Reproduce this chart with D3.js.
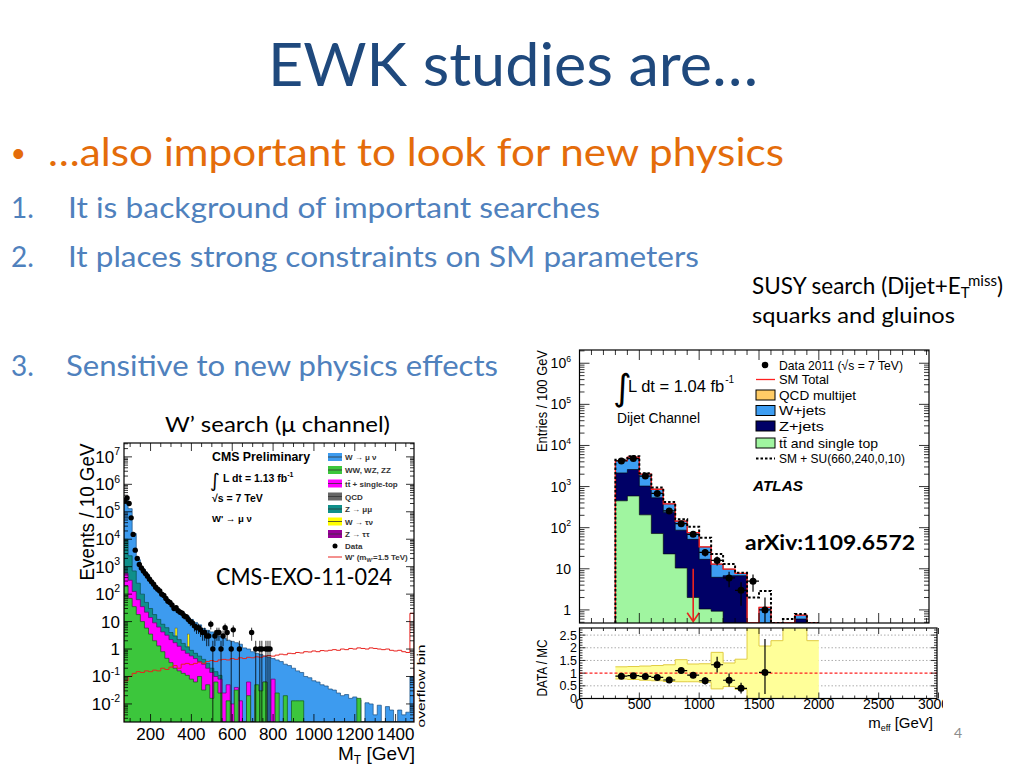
<!DOCTYPE html>
<html><head><meta charset="utf-8">
<script src="https://cdn.jsdelivr.net/npm/d3@7"></script>
<style>body{margin:0;background:#fff}svg{display:block}</style>
</head><body>
<svg id="s" width="1024" height="768"></svg>
<script>
// ---------------- slide text ----------------
const slideTitle = "EWK studies are…";
const bulletText = "…also important to look for new physics";
const listItems = ["It is background of important searches",
  "It places strong constraints on SM parameters",
  "Sensitive to new physics effects"];

// ---------------- CMS W' search (MT, 20 GeV bins from 70 GeV) ----------------
const cmsEdges = d3.range(70, 1491, 20);
const cmsWmunu = [3.2e5,1.3e5,1.6e4,1.8e3,870,560,320,200,140,100,
 66,45,32,25,20,16,12,9.3,7.6,5.6,
 4.8,4.2,3.5,3.0,2.5,2.1,1.9,1.7,1.5,1.1,
 1.0,0.8,0.7,0.63,0.56,0.5,0.45,0.4,0.35,0.28,
 0.25,0.2,0.16,0.14,0.1,0.09,0.07,0.063,0.05,0.045,
 0.035,0.032,0.025,0.02,0.022,0.016,0.018,0.014,0,0.011,
 0.01,0.004,0.009,0,0.008,0.006,0,0.006,0.004,0.005,
 0.1];
const cmsZmumu = [1e4,2.5e3,700,250,100,50,30,18,12,8,
 6,4,3,2.2,1.6,1.2,0.9,0.7,0.55,0.42,
 0.3,0.2,0.15,0.11,0,0,0,0,0,0,
 0,0,0,0,0,0,0,0,0,0,
 0,0,0,0,0,0,0,0,0,0,
 0,0,0,0,0,0,0,0,0,0,
 0,0,0,0,0,0,0,0,0,0,
 0];
const cmsTop = [560,320,125,63,35,22,14,9,6.3,4.2,
 3.2,2.2,1.7,1.26,0.9,0.7,0.56,0.45,0.35,0.28,
 0.2,0.14,0.1,0.08,0.025,0.05,0.01,0.04,0.013,0,
 0.063,0,0.032,0.016,0.063,0,0.08,0,0,0,
 0,0,0,0,0,0,0,0,0,0,
 0,0,0,0,0,0,0,0,0,0,
 0,0,0,0,0,0,0,0,0,0,
 0];
const cmsDiboson = [200,70,35,18,10,5.8,3.5,2.0,1.3,0.8,
 0.46,0.32,0.2,0.16,0.13,0.11,0.08,0.063,0.1,0.032,
 0.05,0.016,0.063,0.025,0,0.013,0,0.032,0,0,
 0.02,0,0.05,0.03,0.063,0,0,0.025,0,0.02,
 0,0.013,0.013,0.013,0,0,0,0,0,0,
 0,0,0,0,0,0,0,0.016,0,0,
 0,0,0,0,0,0,0,0,0,0,
 0];
const cmsWprime = [0.07,0.1,0.13,0.15,0.14,0.16,0.15,0.17,0.16,0.2,
 0.18,0.22,0.25,0.2,0.28,0.3,0.27,0.3,0.33,0.3,
 0.35,0.38,0.35,0.4,0.42,0.4,0.45,0.42,0.48,0.45,
 0.5,0.48,0.52,0.5,0.55,0.58,0.55,0.6,0.65,0.62,
 0.7,0.68,0.75,0.72,0.8,0.78,0.85,0.8,0.88,0.85,
 0.9,0.95,0.9,1.0,0.95,1.05,1.0,1.1,1.05,1.0,
 1.1,1.05,1.0,0.95,1.0,0.9,0.85,0.9,0.8,0.75,
 20];
const cmsWtaunuLow = [320, 380];
const cmsWtaunu = [5.8, 3.5];
const cmsDataM = [75,85,95,105,115,125,135,145,155,165,175,185,195,205,215,225,235,245,255,265,
 275,285,295,305,315,325,335,345,355,365,375,385,395,405,415,425,435,445,455,465,475,485,495,
 505,515,525,535,545,555,565,575,595,605,635,695,715,735,745,765,775,785];
const cmsDataN = [2.5e5,3.2e5,2e5,6e4,1.5e4,4e3,2e3,1.2e3,900,700,560,450,350,280,230,180,150,130,100,90,
 70,55,50,40,30,32,25,22,20,16,15,12,10,9,7,6,6,5,4,4,3,3,8,
 1,3,4,4,1,3,6,4,1,5,1,4,1,1,1,1,1,1];
const cmsXTicks = [200,400,600,800,1000,1200,1400];
const cmsYExps = [7,6,5,4,3,2,1,0,-1,-2];
const cmsLegend = ["W → μ ν","WW, WZ, ZZ","tt\u0304 + single-top","QCD","Z → μμ","W → τν","Z → ττ","Data","W' (m"];

// ---------------- ATLAS SUSY dijet (meff, 100 GeV bins) ----------------
const atlasEdges = d3.range(300, 2001, 100);
const atlasWjets = [4300,5200,2000,860,380,145,76,34,13,9.8,7.7,0,1.15,0,0,0.75,0];
const atlasZjets = [2150,2600,1030,535,235,87,52,17,6.2,6.8,6.8,0,0,0,0,0.6,0];
const atlasTop   = [450,590,205,72,23,10.4,2.0,1.05,0.93,0,0,0,0,0,0,0,0];
const atlasSU    = [4500,5500,2100,950,420,160,105,57,23,13,8,2.0,2.9,0,0.6,0.8,0];
const atlasDataM = [350,450,550,650,750,850,950,1050,1150,1250,1350,1450,1550];
const atlasDataN = [4200,4800,1800,680,255,125,69,25,16,6,3,5,1];
const atlasRatio = [0.88,0.9,0.87,0.83,0.73,1.1,0.92,0.7,1.33,0.72,0.4,null,1.03];
const atlasRatioLo = [0.03,0.03,0.04,0.05,0.06,0.1,0.12,0.15,0.3,0.25,0.2,null,0.85];
const atlasRatioHi = [0.03,0.03,0.04,0.05,0.06,0.1,0.12,0.15,0.32,0.27,0.22,null,1.32];
const bandHi = [1.25,1.26,1.28,1.3,1.33,1.53,1.36,1.37,1.82,1.4,1.55,3,2.07,2.28,3,3,2.28];
const bandLo = [0.77,0.75,0.72,0.7,0.67,0.66,0.66,0.64,0.38,0.47,0.36,0,0,0,0,0,0];
const atlasCut = 950;
const atlasXTicks = [0,500,1000,1500,2000,2500,3000];
const atlasYExps = [6,5,4,3,2,1,0];
const ratioTicks = [0,0.5,1,1.5,2,2.5];
const atlasLegend = ["Data 2011 (√s = 7 TeV)","SM Total","QCD multijet","W+jets","Z+jets","tt\u0304 and single top","SM + SU(660,240,0,10)"];

// ================= drawing =================
const svg = d3.select("#s");
const defs = svg.append("defs");
const SANS = "'Liberation Sans', Arial, sans-serif";
const SLIDE = "Lato, 'Open Sans', sans-serif";
const INTEG = "'DejaVu Sans', sans-serif";

function T(p, x, y, s, o = {}) {
  const t = p.append("text").attr("x", x).attr("y", y).text(s)
    .attr("font-family", o.family || SLIDE).attr("font-size", o.size || 16)
    .attr("fill", o.fill || "#000");
  if (o.weight) t.attr("font-weight", o.weight);
  if (o.style) t.attr("font-style", o.style);
  if (o.anchor) t.attr("text-anchor", o.anchor);
  if (o.len) t.attr("textLength", o.len).attr("lengthAdjust", "spacingAndGlyphs");
  if (o.rot) t.attr("transform", `rotate(${o.rot},${x},${y})`);
  return t;
}
function pow10(p, x, y, e, size) {
  const t = p.append("text").attr("x", x).attr("y", y).attr("text-anchor", "end")
    .attr("font-family", SANS).attr("font-size", size).attr("fill", "#000");
  if (e === 0) t.text("1");
  else if (e === 1) t.text("10");
  else {
    t.append("tspan").text("10");
    t.append("tspan").attr("dy", -size * 0.45).attr("font-size", size * 0.62).text(e);
  }
}
function stepPath(x, y, edges, vals, lo) {
  const p = d3.path(), yl = y(lo), top = y.domain()[1];
  p.moveTo(x(edges[0]), yl);
  vals.forEach((v, i) => {
    const yy = v > lo ? y(Math.min(v, top)) : yl;
    p.lineTo(x(edges[i]), yy); p.lineTo(x(edges[i + 1]), yy);
  });
  p.lineTo(x(edges[edges.length - 1]), yl);
  return p.toString();
}
function clip(id, x, y, w, h) {
  defs.append("clipPath").attr("id", id).append("rect").attr("x", x).attr("y", y).attr("width", w).attr("height", h);
  return `url(#${id})`;
}
function logTicks(scale) {
  const [a, b] = scale.domain(), out = [];
  for (let e = Math.floor(Math.log10(a)); e <= Math.ceil(Math.log10(b)); e++)
    for (let k = 1; k <= 9; k++) { const v = k * Math.pow(10, e); if (v >= a && v <= b) out.push({ v, major: k === 1 }); }
  return out;
}
function frame(g, x0, x1, y0, y1, xs, xTicks, ys, yTicks, majL, minL) {
  const tk = g.append("g").attr("stroke", "#000").attr("stroke-width", 0.8);
  xTicks.forEach(t => {
    const X = xs(t.v), L = t.major ? majL : minL;
    tk.append("line").attr("x1", X).attr("x2", X).attr("y1", y1).attr("y2", y1 - L);
    tk.append("line").attr("x1", X).attr("x2", X).attr("y1", y0).attr("y2", y0 + L);
  });
  yTicks.forEach(t => {
    const Y = ys(t.v), L = t.major ? majL : minL;
    tk.append("line").attr("x1", x0).attr("x2", x0 + L).attr("y1", Y).attr("y2", Y);
    tk.append("line").attr("x1", x1).attr("x2", x1 - L).attr("y1", Y).attr("y2", Y);
  });
  g.append("rect").attr("x", x0).attr("y", y0).attr("width", x1 - x0).attr("height", y1 - y0)
    .attr("fill", "none").attr("stroke", "#000").attr("stroke-width", 1.2);
}

// ---------- slide text ----------
T(svg, 268, 86, slideTitle, { size: 60, fill: "#1F497D", len: 490 });
T(svg, 12, 166, "•", { size: 36, fill: "#E46C0A", family: SANS });
T(svg, 48, 166, bulletText, { size: 38, fill: "#E46C0A", len: 736 });
const listY = [218, 267, 376], listEnd = [600, 699, 498], listX = [68, 68, 66];
listItems.forEach((s, i) => {
  T(svg, 11, listY[i], (i + 1) + ".", { size: 28, fill: "#4F81BD" });
  T(svg, listX[i], listY[i], s, { size: 28, fill: "#4F81BD", len: listEnd[i] - listX[i] });
});
const susy = T(svg, 752, 294, "SUSY search (Dijet+E", { size: 22.5 });
susy.append("tspan").attr("dy", 4).attr("font-size", 15).text("T");
susy.append("tspan").attr("dy", -12).attr("font-size", 15).text("miss");
susy.append("tspan").attr("dy", 8).attr("font-size", 22.5).text(")");
T(svg, 752, 323, "squarks and gluinos", { size: 22, len: 203 });
T(svg, 165, 432, "W’ search (μ channel)", { size: 21, len: 225 });
T(svg, 954, 738, "4", { size: 14, fill: "#8c8c8c" });

// ---------- CMS plot ----------
const cx = d3.scaleLinear().domain([70, 1490]).range([124, 414]);
const cy = d3.scaleLog().domain([0.0022, 3.2e7]).range([722, 443]);
const cLo = 0.0022;
const cms = svg.append("g");
const cp = cms.append("g").attr("clip-path", clip("cc", 124, 443, 290, 279));
const cfill = (vals, fill, stroke) => cp.append("path").attr("d", stepPath(cx, cy, cmsEdges, vals, cLo))
  .attr("fill", fill).attr("stroke", stroke).attr("stroke-width", 0.7);
cfill(cmsWmunu, "#3d9bef", "#1b4f80");
cmsWtaunuLow.forEach((m, i) => cp.append("rect").attr("x", cx(m)).attr("width", cx(m + 10) - cx(m))
  .attr("y", cy(cmsWtaunu[i])).attr("height", cy(cLo) - cy(cmsWtaunu[i])).attr("fill", "#ffff00").attr("stroke", "#555").attr("stroke-width", 0.5));
cfill(cmsZmumu, "#0f8f8a", "#0a4f4c");
cfill(cmsTop, "#ff00ff", "#6a006a");
cfill(cmsDiboson, "#3cc63c", "#145a14");
cp.append("path").attr("d", stepPath(cx, cy, cmsEdges, cmsWprime, cLo)).attr("fill", "none")
  .attr("stroke", "#e8231f").attr("stroke-width", 1);
cmsDataM.forEach((m, i) => {
  const n = cmsDataN[i], s = Math.sqrt(n);
  cp.append("line").attr("x1", cx(m)).attr("x2", cx(m)).attr("y1", cy(Math.max(n - s, cLo)))
    .attr("y2", cy(n + s)).attr("stroke", "#000").attr("stroke-width", 0.8);
  cp.append("circle").attr("cx", cx(m)).attr("cy", cy(n)).attr("r", 2.7).attr("fill", "#000");
});
const cxt = []; for (let v = 100; v <= 1450; v += 50) cxt.push({ v, major: v % 200 === 0 });
frame(cms, 124, 414, 443, 722, cx, cxt, cy, logTicks(cy), 8, 4);
cmsYExps.forEach(e => pow10(cms, 120, cy(Math.pow(10, e)) + 6, e, 17));
cmsXTicks.forEach(v => T(cms, cx(v), 740, v, { family: SANS, size: 17, anchor: "middle" }));
const mt = T(cms, 415, 760, "M", { family: SANS, size: 19, anchor: "end" });
mt.append("tspan").attr("dy", 4).attr("font-size", 12).text("T");
mt.append("tspan").attr("dy", -4).text(" [GeV]");
T(cms, 94, 512, "Events / 10 GeV", { family: SANS, size: 20, anchor: "middle", rot: -90, len: 137 });
T(cms, 425, 686, "overflow bin", { family: SANS, size: 10.5, anchor: "middle", rot: -90, len: 83 });
T(cms, 212, 461, "CMS Preliminary", { family: SANS, size: 13, weight: "bold", len: 98 });
const ld = cms.append("text").attr("x", 210).attr("y", 487).attr("font-family", SANS).attr("font-weight", "bold").attr("fill", "#000");
ld.append("tspan").attr("font-family", INTEG).attr("font-weight", "normal").attr("font-size", 19).text("∫");
ld.append("tspan").attr("dx", 3).attr("dy", -5).attr("font-size", 10.5).text("L dt = 1.13 fb");
ld.append("tspan").attr("dy", -5).attr("font-size", 7).text("-1");
T(cms, 212, 502, "√s = 7 TeV", { family: SANS, size: 10.5, weight: "bold" });
T(cms, 212, 522, "W' → μ ν", { family: SANS, size: 9.5, weight: "bold" });
const cmsLegCol = ["#3d9bef", "#3cc63c", "#ff00ff", "#666666", "#0f8f8a", "#ffff00", "#990099"];
const cmsLegY = [457, 470, 483.5, 496.5, 509, 521.5, 534, 546, 557];
cmsLegend.forEach((s, i) => {
  const y = cmsLegY[i];
  if (i < 7) {
    cms.append("rect").attr("x", 328).attr("y", y - 4).attr("width", 14).attr("height", 8).attr("fill", cmsLegCol[i]);
    cms.append("line").attr("x1", 328).attr("x2", 342).attr("y1", y).attr("y2", y).attr("stroke", "#333").attr("stroke-width", 0.8);
  } else if (i === 7) cms.append("circle").attr("cx", 335).attr("cy", y).attr("r", 2.5).attr("fill", "#000");
  else cms.append("line").attr("x1", 328).attr("x2", 342).attr("y1", y).attr("y2", y).attr("stroke", "#e8231f").attr("stroke-width", 1);
  const t = T(cms, 345, y + 3, s, { family: SANS, size: 8, weight: "bold", fill: "#333" });
  if (i === 8) {
    t.append("tspan").attr("dy", 1.5).attr("font-size", 5.5).text("W'");
    t.append("tspan").attr("dy", -1.5).text("=1.5 TeV)");
  }
});
T(svg, 216, 585, "CMS-EXO-11-024", { size: 24, len: 176 });

// ---------- ATLAS plot ----------
const ax = d3.scaleLinear().domain([0, 3000]).range([579.5, 938.5]);
const ay = d3.scaleLog().domain([0.48, 2.1e6]).range([623, 350]);
const ry = d3.scaleLinear().domain([0, 2.78]).range([698.5, 628]);
const aLo = 0.48;
const atl = svg.append("g").attr("clip-path", clip("ac", 500, 330, 443, 420));
const ap = atl.append("g").attr("clip-path", clip("au", 579.5, 350, 349.5, 273));
const afill = (vals, fill) => ap.append("path").attr("d", stepPath(ax, ay, atlasEdges, vals, aLo))
  .attr("fill", fill).attr("stroke", "#000").attr("stroke-width", 0.6);
afill(atlasWjets, "#3d9df2");
afill(atlasZjets, "#000066");
afill(atlasTop, "#a0f5a0");
ap.append("path").attr("d", stepPath(ax, ay, atlasEdges, atlasWjets, aLo)).attr("fill", "none")
  .attr("stroke", "#ff2020").attr("stroke-width", 1.3);
ap.append("path").attr("d", stepPath(ax, ay, atlasEdges, atlasSU, aLo)).attr("fill", "none")
  .attr("stroke", "#000").attr("stroke-width", 2).attr("stroke-dasharray", "2.5,2");
atlasDataM.forEach((m, i) => {
  const n = atlasDataN[i], s = Math.sqrt(n);
  ap.append("line").attr("x1", ax(m - 50)).attr("x2", ax(m + 50)).attr("y1", ay(n)).attr("y2", ay(n)).attr("stroke", "#000").attr("stroke-width", 1.2);
  ap.append("line").attr("x1", ax(m)).attr("x2", ax(m)).attr("y1", ay(Math.max(n - s, aLo))).attr("y2", ay(n + s)).attr("stroke", "#000").attr("stroke-width", 1.2);
  ap.append("circle").attr("cx", ax(m)).attr("cy", ay(n)).attr("r", 3.5).attr("fill", "#000");
});
const axc = ax(atlasCut);
ap.append("path").attr("d", `M${axc},${ay(10)}L${axc},${ay(0.52)}M${axc - 6},${ay(0.85)}L${axc},${ay(0.52)}L${axc + 6},${ay(0.85)}`)
  .attr("fill", "none").attr("stroke", "#e8231f").attr("stroke-width", 1.6);
const axt = []; for (let v = 0; v <= 3000; v += 100) axt.push({ v, major: v % 500 === 0 });
frame(atl, 579.5, 929, 350, 623, ax, axt.filter(t => t.v < 2920), ay, logTicks(ay), 10, 5);
atlasYExps.forEach(e => pow10(atl, 571, ay(Math.pow(10, e)) + 5, e, 14));
T(atl, 547, 401, "Entries / 100 GeV", { family: SANS, size: 15, anchor: "middle", rot: -90, len: 102 });
T(atl, 613, 400, "∫", { family: INTEG, size: 36 });
const al = atl.append("text").attr("x", 628).attr("y", 392).attr("font-family", SANS).attr("fill", "#000").attr("font-size", 16.5);
al.append("tspan").text("L dt = 1.04 fb");
al.append("tspan").attr("dx", 1).attr("dy", -9).attr("font-size", 10).text("-1");
T(atl, 617, 423, "Dijet Channel", { family: SANS, size: 15.5, len: 83 });
T(atl, 753, 491, "ATLAS", { family: SANS, size: 15.5, weight: "bold", style: "italic", len: 50 });
const aLegY = [365, 379.5, 395, 410.5, 426, 443, 458.5];
const aLegW = [124, 50, 77, 47, 45, 99, 126];
atlasLegend.forEach((s, i) => {
  const y = aLegY[i];
  if (i === 0) atl.append("circle").attr("cx", 765).attr("cy", y).attr("r", 3.3).attr("fill", "#000");
  else if (i === 1) atl.append("line").attr("x1", 756).attr("x2", 775).attr("y1", y).attr("y2", y).attr("stroke", "#ff2020").attr("stroke-width", 1.3);
  else if (i === 6) atl.append("line").attr("x1", 756).attr("x2", 775).attr("y1", y).attr("y2", y).attr("stroke", "#000").attr("stroke-width", 2).attr("stroke-dasharray", "2.5,2");
  else atl.append("rect").attr("x", 756).attr("y", y - 5).attr("width", 19).attr("height", 10)
    .attr("fill", ["", "", "#ffcc66", "#3d9df2", "#000066", "#a0f5a0"][i]).attr("stroke", "#000").attr("stroke-width", 1);
  T(atl, 779, y + 4.5, s, { family: SANS, size: 13.5, len: aLegW[i] });
});
T(svg, 745, 550, "arXiv:1109.6572", { size: 21, weight: "bold", len: 170 });

// ratio panel
const rp = atl.append("g").attr("clip-path", clip("ar", 579.5, 628, 357.5, 70.5));
[0.5, 1.5, 2, 2.5].forEach(v => rp.append("line").attr("x1", 579.5).attr("x2", 937).attr("y1", ry(v)).attr("y2", ry(v))
  .attr("stroke", "#999").attr("stroke-width", 0.8).attr("stroke-dasharray", "1.5,2"));
const band = d3.path();
atlasEdges.slice(0, -1).forEach((e, i) => {
  band.rect(ax(e), ry(bandHi[i]), ax(atlasEdges[i + 1]) - ax(e), ry(bandLo[i]) - ry(bandHi[i]));
});
rp.append("path").attr("d", band.toString()).attr("fill", "#ffff99").attr("stroke", "none");
const hiL = d3.path(), loL = d3.path();
atlasEdges.slice(0, -1).forEach((e, i) => {
  const x0 = ax(e), x1 = ax(atlasEdges[i + 1]);
  if (i === 0) { hiL.moveTo(x0, ry(bandHi[i])); loL.moveTo(x0, ry(bandLo[i])); }
  else { hiL.lineTo(x0, ry(bandHi[i])); loL.lineTo(x0, ry(bandLo[i])); }
  hiL.lineTo(x1, ry(bandHi[i])); loL.lineTo(x1, ry(bandLo[i]));
});
rp.append("path").attr("d", hiL.toString()).attr("fill", "none").attr("stroke", "#e0cc40").attr("stroke-width", 1);
rp.append("path").attr("d", loL.toString()).attr("fill", "none").attr("stroke", "#e0cc40").attr("stroke-width", 1);
rp.append("line").attr("x1", 579.5).attr("x2", 937).attr("y1", ry(1)).attr("y2", ry(1))
  .attr("stroke", "#ff2020").attr("stroke-width", 1.2).attr("stroke-dasharray", "3,2");
atlasDataM.forEach((m, i) => {
  const r = atlasRatio[i]; if (r == null) return;
  rp.append("line").attr("x1", ax(m - 50)).attr("x2", ax(m + 50)).attr("y1", ry(r)).attr("y2", ry(r)).attr("stroke", "#000").attr("stroke-width", 1.2);
  rp.append("line").attr("x1", ax(m)).attr("x2", ax(m)).attr("y1", ry(r - atlasRatioLo[i])).attr("y2", ry(r + atlasRatioHi[i])).attr("stroke", "#000").attr("stroke-width", 1.2);
  rp.append("circle").attr("cx", ax(m)).attr("cy", ry(r)).attr("r", 3.5).attr("fill", "#000");
});
const rt = []; for (let v = 0; v <= 2.75; v += 0.1) rt.push({ v: +v.toFixed(1), major: Math.abs((v * 2) - Math.round(v * 2)) < 1e-6 });
frame(atl, 579.5, 937, 628, 698.5, ax, axt, ry, rt, 6, 3);
ratioTicks.forEach(v => T(atl, 577, ry(v) + 4.5, v, { family: SANS, size: 12.5, anchor: "end" }));
atlasXTicks.forEach(v => T(atl, ax(v) - (v === 3000 ? 5 : 0), 709, v, { family: SANS, size: 14, anchor: "middle" }));
T(atl, 547, 668, "DATA / MC", { family: SANS, size: 14, anchor: "middle", rot: -90, len: 57 });
const me = T(atl, 933, 728, "m", { family: SANS, size: 15, anchor: "end" });
me.append("tspan").attr("dy", 3).attr("font-size", 9).text("eff");
me.append("tspan").attr("dy", -3).text(" [GeV]");
</script>
</body></html>
